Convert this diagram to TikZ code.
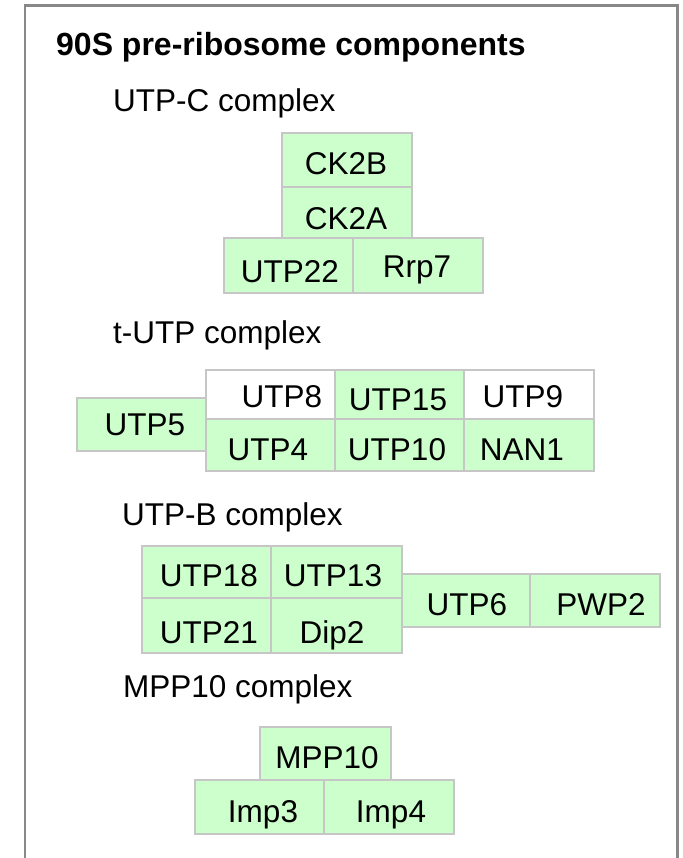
\documentclass[tikz,border=0pt]{standalone}
\usepackage{fontspec}
\setmainfont{Liberation Sans}
\definecolor{boxgreen}{RGB}{204,255,204}
\definecolor{boxline}{RGB}{198,198,198}
\definecolor{framegray}{RGB}{136,136,136}
\tikzset{
  boxsty/.style={draw=boxline, line width=2pt, rectangle, inner sep=0pt, outer sep=0pt, anchor=north west},
  txt/.style={inner sep=0pt, anchor=base, font=\fontsize{31.5}{36}\selectfont, text=black},
  head/.style={inner sep=0pt, anchor=base west, font=\fontsize{31.5}{36}\selectfont, text=black},
  framesty/.style={draw=framegray, line width=2.6pt}
}
% name, x1, y1, x2, y2, fill, text x, text baseline, text
\newcommand\pbx[9]{%
  \node[boxsty, fill=#6, minimum width={#4-#2}, minimum height={#5-#3}] (#1) at (#2,#3) {};
  \node[txt] (#1t) at (#7,#8) {#9};}
\begin{document}
\begin{tikzpicture}[x=1pt,y=-1pt]
\useasboundingbox (0,0) rectangle (682,858);
\fill[white] (0,0) rectangle (682,858);
\draw[framesty] (25,860) -- (25,5.5) -- (677.5,5.5) -- (677.5,860);

\node[head, font=\fontsize{32}{36}\selectfont\bfseries] (title) at (56,56) {90S pre-ribosome components};

% UTP-C complex
\node[head] (hc) at (113,112) {UTP-C complex};
\pbx{ck2b}{282}{133}{412}{187}{boxgreen}{346}{175}{CK2B}
\pbx{ck2a}{282}{187}{412}{238}{boxgreen}{346}{230}{CK2A}
\pbx{utp22}{224}{238}{353}{293}{boxgreen}{290}{282}{UTP22}
\pbx{rrp7}{353}{238}{483}{293}{boxgreen}{417}{277}{Rrp7}

% t-UTP complex
\node[head] (ht) at (113,343) {t-UTP complex};
\pbx{utp5}{77}{398}{207}{451}{boxgreen}{145}{435}{UTP5}
\pbx{utp8}{206}{370}{335}{419}{white}{282}{407}{UTP8}
\pbx{utp15}{335}{370}{464}{419}{boxgreen}{398}{410}{UTP15}
\pbx{utp9}{464}{370}{594}{419}{white}{523}{407}{UTP9}
\pbx{utp4}{206}{419}{335}{471}{boxgreen}{268}{460}{UTP4}
\pbx{utp10}{335}{419}{464}{471}{boxgreen}{397}{460}{UTP10}
\pbx{nan1}{464}{419}{594}{471}{boxgreen}{522}{460}{NAN1}

% UTP-B complex
\node[head] (hb) at (122,525) {UTP-B complex};
\pbx{utp18}{142}{546}{271}{598}{boxgreen}{209}{586}{UTP18}
\pbx{utp13}{271}{546}{402}{598}{boxgreen}{333}{586}{UTP13}
\pbx{utp21}{142}{598}{271}{653}{boxgreen}{209}{643}{UTP21}
\pbx{dip2}{271}{598}{402}{653}{boxgreen}{332}{643}{Dip2}
\pbx{utp6}{402}{574}{530}{627}{boxgreen}{467}{615}{UTP6}
\pbx{pwp2}{530}{574}{660}{627}{boxgreen}{601}{615}{PWP2}

% MPP10 complex
\node[head] (hm) at (123,697) {MPP10 complex};
\pbx{mpp10}{260}{727}{391}{780}{boxgreen}{327}{768}{MPP10}
\pbx{imp3}{195}{780}{324}{834}{boxgreen}{263}{822}{Imp3}
\pbx{imp4}{324}{780}{454}{834}{boxgreen}{391}{822}{Imp4}
\end{tikzpicture}
\end{document}
